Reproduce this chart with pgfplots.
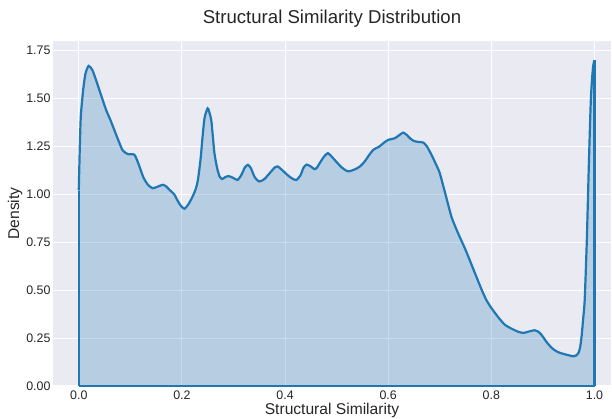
\documentclass[border=0pt]{standalone}
\usepackage{pgfplots}
\pgfplotsset{compat=1.18}
\usepackage{fontspec}
\setmainfont{Liberation Sans}
\definecolor{bgc}{HTML}{EAEAF2}
\definecolor{labc}{HTML}{262626}
\definecolor{kde}{HTML}{1F77B4}
\pgfplotstableread{
x y
0 1.02
0.002 1.25
0.004 1.41
0.0087 1.55
0.013 1.63
0.019 1.67
0.026 1.65
0.033 1.60
0.043 1.52
0.053 1.44
0.061 1.39
0.069 1.335
0.077 1.28
0.085 1.23
0.095 1.21
0.108 1.206
0.117 1.15
0.125 1.09
0.134 1.05
0.143 1.032
0.153 1.04
0.163 1.05
0.170 1.04
0.176 1.023
0.185 1.0
0.192 0.965
0.198 0.94
0.205 0.925
0.213 0.95
0.221 0.99
0.227 1.03
0.231 1.075
0.236 1.18
0.240 1.30
0.244 1.40
0.250 1.449
0.254 1.42
0.257 1.385
0.260 1.30
0.263 1.215
0.268 1.14
0.273 1.093
0.278 1.08
0.284 1.09
0.291 1.095
0.300 1.085
0.308 1.075
0.315 1.10
0.322 1.14
0.328 1.154
0.334 1.135
0.341 1.09
0.350 1.067
0.360 1.08
0.370 1.11
0.380 1.14
0.386 1.145
0.395 1.125
0.405 1.10
0.414 1.082
0.422 1.075
0.430 1.10
0.436 1.14
0.442 1.155
0.450 1.145
0.457 1.131
0.462 1.14
0.467 1.162
0.475 1.195
0.483 1.215
0.491 1.195
0.499 1.171
0.510 1.14
0.522 1.12
0.535 1.13
0.545 1.145
0.554 1.17
0.563 1.205
0.571 1.232
0.583 1.25
0.592 1.27
0.600 1.284
0.613 1.293
0.622 1.31
0.629 1.322
0.636 1.31
0.642 1.293
0.650 1.278
0.660 1.273
0.668 1.27
0.675 1.25
0.684 1.206
0.692 1.16
0.700 1.11
0.712 0.99
0.723 0.88
0.735 0.80
0.750 0.71
0.765 0.61
0.780 0.51
0.790 0.45
0.800 0.407
0.813 0.36
0.826 0.32
0.840 0.298
0.852 0.283
0.862 0.277
0.874 0.285
0.884 0.291
0.890 0.285
0.897 0.268
0.907 0.23
0.917 0.199
0.925 0.183
0.933 0.173
0.946 0.163
0.959 0.155
0.965 0.16
0.969 0.173
0.972 0.20
0.975 0.26
0.978 0.35
0.981 0.45
0.985 0.75
0.989 1.15
0.993 1.50
0.997 1.66
1.0 1.70
}\kdedata
\begin{document}
\begin{tikzpicture}
\useasboundingbox (-53pt,-32pt) rectangle (559pt,386pt);
\begin{axis}[
  scale only axis, width=558pt, height=345pt,
  xmin=-0.05, xmax=1.032, ymin=0, ymax=1.80,
  axis background/.style={fill=bgc},
  axis line style={draw=none},
  grid=major, grid style={white, line width=1.1pt},
  major tick length=0pt,
  xtick={0,0.2,0.4,0.6,0.8,1.0},
  ytick={0,0.25,0.5,0.75,1.0,1.25,1.5,1.75},
  /pgf/number format/assume math mode=true,
  xticklabel style={/pgf/number format/fixed, /pgf/number format/fixed zerofill, /pgf/number format/precision=1, yshift=-1pt},
  yticklabel style={/pgf/number format/fixed, /pgf/number format/fixed zerofill, /pgf/number format/precision=2, xshift=1pt},
  tick label style={font=\fontsize{12.4}{14}\selectfont, text=labc},
  xlabel={Structural Similarity}, ylabel={Density},
  label style={font=\fontsize{15.6}{17}\selectfont, text=labc},
  xlabel style={at={(axis description cs:0.5,0)}, anchor=center, yshift=-24pt},
  ylabel style={at={(axis description cs:0,0.5)}, anchor=center, yshift=38pt},
  title={Structural Similarity Distribution},
  title style={font=\fontsize{18.6}{20}\selectfont, text=labc, at={(axis description cs:0.5,1)}, anchor=center, yshift=16pt},
]
\addplot[draw=none, fill=kde, fill opacity=0.25, smooth, tension=0.4] table[x=x,y=y]{\kdedata} \closedcycle;
\addplot[kde, line width=2.2pt, smooth, tension=0.4] table[x=x,y=y]{\kdedata};
\addplot[kde, line width=2.2pt] coordinates {(0,0) (0,1.02)};
\addplot[kde, line width=2.2pt] coordinates {(1,1.70) (1,0)};
\addplot[kde, line width=2.2pt] coordinates {(0,0) (1,0)};
\end{axis}
\end{tikzpicture}
\end{document}
